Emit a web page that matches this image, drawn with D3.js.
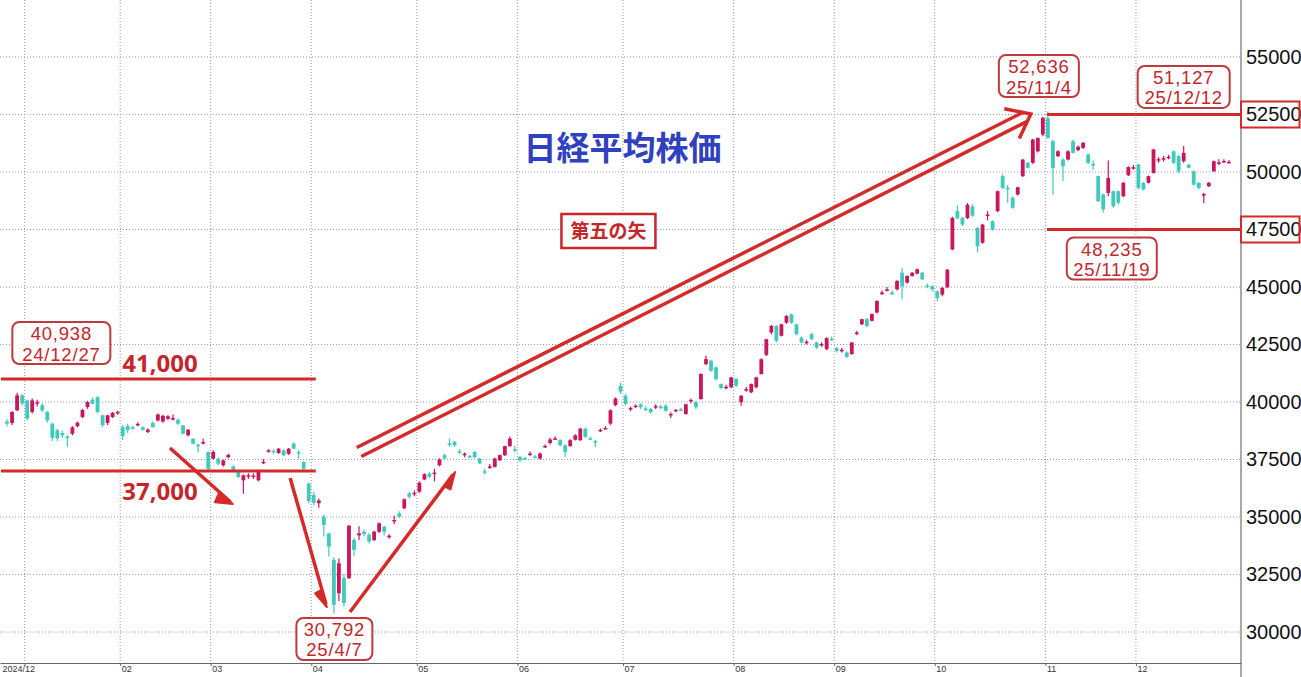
<!DOCTYPE html>
<html><head><meta charset="utf-8">
<script src="https://cdn.jsdelivr.net/npm/d3@7"></script>
<style>html,body{margin:0;padding:0;background:#fff;overflow:hidden}</style>
</head><body><svg id="c" width="1301" height="677"></svg>
<script>
// ---- data: daily candles [open, high, low, close] per month ----
const dec24 = [[39150,39250,38950,39060],[39090,39600,39000,39565],[39640,40400,39600,40290],[40290,40350,39850,39930]];
const jan25 = [[40070,40100,39200,39275],[39565,40150,39500,40070],[39940,40100,39800,39990],[39860,39950,39550,39640],[39570,39620,39100,39200],[39060,39100,38300,38440],[38770,38850,38300,38420],[38650,38750,38450,38560],[38500,38550,38050,38450],[38620,38950,38550,38900],[38950,39150,38900,39100],[39350,39700,39300,39650],[39780,40050,39700,40000],[40100,40200,39900,39930],[40210,40250,39500,39565],[39420,39450,38900,38990],[39090,39450,39000,39420],[39350,39560,39300,39530],[39550,39620,39450,39570]];
const feb25 = [[38910,39000,38350,38520],[38950,39050,38650,38780],[38900,38980,38800,38830],[39020,39120,38950,39050],[38900,38950,38750,38790],[38700,38850,38650,38800],[39090,39150,38880,38910],[39200,39500,39150,39460],[39150,39450,39100,39400],[39270,39420,39220,39380],[39280,39460,39200,39300],[39230,39280,39000,39060],[38985,39000,38600,38620],[38550,38820,38500,38800],[38400,38420,38150,38190],[38140,38200,37800,38100],[38220,38400,38150,38260],[37825,37850,37050,37100]];
const mar25 = [[37535,37900,37500,37825],[37535,37600,37250,37320],[37245,37500,37200,37460],[37600,37750,37550,37700],[37200,37250,36950,36995],[36995,37050,36700,36740],[36595,36850,36010,36810],[36800,36900,36650,36820],[36780,36900,36650,36800],[36595,37060,36550,37030],[37350,37520,37300,37400],[37870,37950,37800,37900],[37880,37950,37750,37850],[37780,38000,37750,37970],[37900,37950,37650,37680],[37750,38000,37700,37970],[38190,38250,37950,37970],[37820,37900,37530,37800],[37390,37420,37050,37100],[36450,36500,35600,35700]];
const apr25 = [[35950,36100,35500,35620],[35600,35800,35400,35720],[35010,35100,34150,34650],[34290,34300,33280,33710],[33140,33250,30792,31180],[31690,33200,31340,32990],[32340,32500,31110,31260],[32340,34650,32300,34620],[34000,34100,33300,33570],[34200,34600,34000,34290],[34360,34450,34150,34260],[34220,34300,33850,33930],[34000,34400,33950,34360],[34360,34760,34300,34730],[34580,34620,34200,34360],[34120,34250,34050,34190],[34830,35050,34700,34870],[35160,35250,34950,35010],[35380,35800,35350,35770],[36030,36100,35800,35880],[36000,36150,35900,36050]];
const may25 = [[36100,36550,36050,36490],[36630,36900,36600,36860],[36890,36950,36700,36750],[36900,37100,36550,36930],[37250,37550,37200,37500],[37690,37750,37500,37540],[38200,38420,38050,38180],[38270,38300,38050,38120],[37850,37950,37750,37830],[37700,37800,37600,37750],[37650,37700,37550,37600],[37830,37870,37550,37600],[37540,37560,37300,37330],[36990,37100,36850,36970],[37160,37300,37100,37200],[37180,37580,37150,37540],[37470,37720,37440,37690],[37690,38100,37650,38080],[38080,38500,38050,38410],[37950,38100,37800,37940]];
const jun25 = [[37610,37650,37400,37470],[37560,37620,37480,37540],[37740,37850,37650,37760],[37630,37700,37550,37600],[37540,37800,37500,37760],[38060,38150,38000,38090],[38220,38450,38150,38370],[38400,38500,38350,38420],[38340,38380,38080,38120],[38120,38150,37600,37830],[38080,38380,38050,38340],[38360,38600,38330,38550],[38340,38880,38300,38840],[38840,38880,38450,38480],[38420,38500,38350,38400],[38300,38350,38050,38270],[38770,38850,38700,38790],[38840,38950,38800,38870],[39060,39680,39000,39640],[39860,40200,39820,40150],[40700,40850,40350,40450]];
const jul25 = [[40275,40350,39850,39915],[39700,39800,39600,39740],[39800,39900,39750,39840],[39900,39950,39700,39770],[39720,39800,39600,39690],[39700,39750,39500,39550],[39800,39900,39700,39820],[39800,39880,39700,39780],[39840,39900,39580,39620],[39470,39550,39300,39480],[39630,39700,39550,39660],[39680,39750,39600,39660],[39480,39920,39450,39900],[40050,40150,39950,40090],[39990,40050,39700,39770],[40130,41250,40100,41215],[41650,42010,41600,41865],[41790,41850,41300,41360],[41500,41550,40950,40995],[40780,40800,40550,40610],[40640,40750,40550,40660],[40640,41100,40600,41070]];
const aug25 = [[41000,41050,40650,40710],[39990,40300,39840,40270],[40550,40650,40450,40560],[40420,40800,40380,40780],[40640,41100,40600,41070],[41215,41900,41200,41860],[42050,42750,42000,42730],[43020,43350,42950,43310],[43310,43350,42600,42660],[42880,43400,42850,43380],[43450,43780,43400,43740],[43810,43850,43400,43450],[43380,43400,42900,42950],[42800,42850,42550,42590],[42590,42700,42500,42620],[42950,43000,42700,42730],[42590,42620,42300,42370],[42500,42600,42400,42520],[42300,42800,42250,42780],[42750,42850,42650,42730]];
const sep25 = [[42340,42400,42150,42220],[42250,42350,42150,42270],[42150,42200,41900,41960],[42080,42600,42050,42590],[43000,43100,42900,43020],[43380,43620,43350,43600],[43600,43650,43250,43310],[43530,43850,43500,43820],[43890,44420,43850,44390],[44740,44850,44650,44760],[44880,45000,44800,44900],[44760,44850,44650,44740],[44900,45300,44850,45260],[45620,45840,44470,45040],[45190,45500,45150,45480],[45480,45650,45450,45620],[45580,45800,45550,45770],[45620,45650,45300,45330],[45060,45150,44950,45040],[45030,45080,44800,44900]];
const oct25 = [[44815,44850,44380,44525],[44670,45000,44600,44960],[44990,45780,44950,45750],[46630,48050,46600,48000],[48300,48550,47950,48000],[48000,48050,47650,47720],[48000,48650,47950,48580],[48500,48600,48050,48100],[47570,47600,46500,46770],[46920,47750,46880,47715],[48100,48300,47900,48150],[47860,47900,47450,47500],[48300,49200,48250,49165],[49820,49900,49250,49310],[49310,49450,48660,49300],[48875,48950,48400,48440],[49020,49360,48980,49340],[49820,50560,49780,50540],[50400,50450,50150,50180],[50400,51450,50350,51410],[50900,51500,50850,51480],[51630,52400,51550,52355]];
const nov25 = [[52330,52636,51450,51485],[51340,51400,49020,50180],[50690,50950,50650,50900],[50540,50600,49600,50250],[50540,50950,50500,50900],[51340,51400,50800,50830],[50950,51150,50900,51100],[51050,51300,51000,51270],[50760,50800,50350,50400],[50350,50500,50100,50320],[49820,49850,48700,48730],[49020,49050,48235,48370],[49090,50500,48950,49740],[49165,49200,48450,48510],[49165,49200,48600,48660],[48950,49560,48900,49530],[49860,50250,49830,50210],[50200,50300,50100,50210]];
const dec25 = [[50325,50350,49250,49310],[49530,49560,49200,49240],[49530,49850,49500,49820],[49960,51000,49930,50980],[50540,50650,50400,50560],[50580,50700,50450,50600],[50640,50750,50550,50660],[50900,50950,50350,50400],[50690,50750,49950,50035],[50470,51127,50400,50830],[50320,50350,50150,50180],[50035,50060,49400,49450],[49530,49560,49250,49310],[49020,49100,48650,49040],[49380,49560,49350,49530],[50035,50500,50000,50470],[50400,50550,50300,50420],[50460,50550,50400,50480],[50440,50520,50380,50440]];
const monthGroups = [dec24, jan25, feb25, mar25, apr25, may25, jun25, jul25, aug25, sep25, oct25, nov25, dec25];
const monthLabels = ["2024/12","02","03","04","05","06","07","08","09","10","11","12"]; // ticks at start of Jan..Dec 2025
const yTicks = [30000,32500,35000,37500,40000,42500,45000,47500,50000,52500,55000];
const boxedTicks = [52500, 47500];
// reference levels: value, from index, to index
const levelLines = [[41000,-1.2,61.4],[37000,-1.2,61.4],[52500,206.8,245.4],[47500,206.8,245.4]];
const levelTexts = [["41,000",22.9,41000,-7],["37,000",22.9,37000,29]];
// callouts: value text, date text, center index, center value
const callouts = [["40,938","24/12/27",10.8,42565],["52,636","25/11/4",205.2,54170],["51,127","25/12/12",234.0,53700],["48,235","25/11/19",219.7,46239],["30,792","25/4/7",65.1,29696]];
// arrows: from [index,value] to [index,value], barb angle
const singleArrows = [[[32.4,38000],[44.9,35565],-36],[[56.3,36696],[63.6,31087],-25],[[68.2,30870],[89.1,36957],-22]];
const doubleArrow = [[70.0,37826],[203.6,52522]];
const titleText = ["日経平均株価",122.4,50522];
const arrowName = ["第五の矢",119.6,47435];

// ---- build ----
const candles = [];
monthGroups.forEach((g,m)=>g.forEach(d=>candles.push({m,o:d[0],h:d[1],l:d[2],c:d[3]})));
candles.forEach((d,i)=>d.i=i);
const monthStarts = [];
let cum = 0;
monthGroups.forEach((g,m)=>{ if(m>0) monthStarts.push(cum - 0.5); cum += g.length; });

const W=1301,H=677, axisX=1241, axisY=663;
const svg = d3.select("#c");
const x = d3.scaleLinear().domain([-1.4,245.4]).range([0,axisX]);
const y = d3.scaleLinear().domain([30000,55000]).range([632,57]);
const RED="#d42a2a", TXT="#c4262c", UP="#c9165c", DN="#3fcabd";

// grid
const grid = svg.append("g");
grid.selectAll(".hg").data(yTicks).join("line")
  .attr("x1",0).attr("x2",axisX).attr("y1",d=>y(d)).attr("y2",d=>y(d))
  .attr("stroke","#9a9a9a").attr("stroke-width",1).attr("stroke-dasharray","1,2");
grid.selectAll(".vg").data(monthStarts).join("line")
  .attr("x1",d=>x(d)).attr("x2",d=>x(d)).attr("y1",0).attr("y2",axisY)
  .attr("stroke","#9a9a9a").attr("stroke-width",1).attr("stroke-dasharray","1,2");

// x axis
const xa = svg.append("g").attr("transform",`translate(0,${axisY})`)
  .call(d3.axisBottom(x).tickValues(monthStarts).tickFormat((d,i)=>monthLabels[i]).tickSize(3).tickSizeOuter(0));
xa.select(".domain").attr("stroke","#666");
xa.selectAll(".tick line").attr("stroke","#666");
xa.selectAll(".tick text").attr("text-anchor","start").attr("y",3).attr("dy","0.71em")
  .attr("font-family","Liberation Sans, Arial, sans-serif").attr("font-size",9).attr("fill","#333")
  .attr("dx",(d,i)=> i===0 ? -(x(d)-2) : 1);

// right axis line and labels
svg.append("line").attr("x1",axisX).attr("x2",axisX).attr("y1",0).attr("y2",H).attr("stroke","#555").attr("stroke-width",1);
const ya = svg.append("g").attr("transform",`translate(${axisX},0)`)
  .call(d3.axisRight(y).tickValues(yTicks).tickFormat(d3.format("d")).tickSize(0).tickPadding(5));
ya.select(".domain").remove();
ya.selectAll(".tick text").attr("font-family","Liberation Sans, Arial, sans-serif").attr("font-size",20).attr("fill","#111");
svg.selectAll(".yb").data(boxedTicks).join("rect")
  .attr("x",axisX).attr("width",W-axisX-1.5).attr("y",d=>y(d)-13).attr("height",26)
  .attr("fill","none").attr("stroke",RED).attr("stroke-width",2);

// candles
const cg = svg.append("g");
const bw = 3.8;
cg.selectAll(".wick").data(candles).join("line")
  .attr("x1",d=>x(d.i)).attr("x2",d=>x(d.i)).attr("y1",d=>y(d.h)).attr("y2",d=>y(d.l))
  .attr("stroke",d=>d.c>=d.o?UP:DN).attr("stroke-width",1.2);
cg.selectAll(".body").data(candles).join("rect")
  .attr("x",d=>x(d.i)-bw/2).attr("width",bw)
  .attr("y",d=>y(Math.max(d.o,d.c))).attr("height",d=>Math.max(1.5,Math.abs(y(d.o)-y(d.c))))
  .attr("fill",d=>d.c>=d.o?UP:DN);

// level lines
svg.selectAll(".lvl").data(levelLines).join("line")
  .attr("x1",d=>x(d[1])).attr("x2",d=>x(d[2])).attr("y1",d=>y(d[0])).attr("y2",d=>y(d[0]))
  .attr("stroke",RED).attr("stroke-width",3);
svg.selectAll(".lvt").data(levelTexts).join("text")
  .attr("x",d=>x(d[1])).attr("y",d=>y(d[2])+d[3]).text(d=>d[0])
  .attr("font-family","Noto Sans, Liberation Sans, sans-serif").attr("font-weight","bold").attr("font-size",24).attr("fill",TXT);

// callouts
const cw = {"40,938":98,"52,636":80,"51,127":92,"48,235":90,"30,792":76};
const co = svg.selectAll(".co").data(callouts).join("g").attr("transform",d=>`translate(${x(d[2])},${y(d[3])})`);
co.append("rect").attr("x",d=>-cw[d[0]]/2).attr("y",-21).attr("width",d=>cw[d[0]]).attr("height",42)
  .attr("rx",7).attr("fill","#fff").attr("fill-opacity",0.85).attr("stroke","#c0393d").attr("stroke-width",2);
const cfont = "Liberation Sans, Arial, sans-serif";
co.append("text").attr("text-anchor","middle").attr("y",-3).text(d=>d[0])
  .attr("font-family",cfont).attr("font-size",18.5).attr("letter-spacing",0.8).attr("fill",TXT);
co.append("text").attr("text-anchor","middle").attr("y",17.5).text(d=>d[1])
  .attr("font-family",cfont).attr("font-size",18.5).attr("letter-spacing",0.8).attr("fill",TXT);

// single arrows (harpoon heads)
function rot(v,deg){const a=deg*Math.PI/180;return [v[0]*Math.cos(a)-v[1]*Math.sin(a), v[0]*Math.sin(a)+v[1]*Math.cos(a)];}
singleArrows.forEach(a=>{
  const p0=[x(a[0][0]),y(a[0][1])], p1=[x(a[1][0]),y(a[1][1])];
  const dx=p1[0]-p0[0], dy=p1[1]-p0[1], L=Math.hypot(dx,dy);
  const back=[-dx/L,-dy/L];
  svg.append("line").attr("x1",p0[0]).attr("y1",p0[1]).attr("x2",p1[0]+back[0]*3).attr("y2",p1[1]+back[1]*3)
    .attr("stroke",RED).attr("stroke-width",3.5).attr("stroke-linecap","butt");
  const b=rot(back,a[2]);
  const pts=[p1,[p1[0]+back[0]*18,p1[1]+back[1]*18],[p1[0]+b[0]*18,p1[1]+b[1]*18]];
  svg.append("path").attr("d",d3.line()(pts)+"Z").attr("fill",RED).attr("stroke",RED).attr("stroke-width",2).attr("stroke-linejoin","round");
});

// double arrow
{
  const p0=[x(doubleArrow[0][0]),y(doubleArrow[0][1])], p1=[x(doubleArrow[1][0]),y(doubleArrow[1][1])];
  const dx=p1[0]-p0[0], dy=p1[1]-p0[1], L=Math.hypot(dx,dy);
  const u=[dx/L,dy/L], n=[-u[1],u[0]], back=[-u[0],-u[1]];
  const off=5, th=38, hl=27;
  const endD = off/Math.tan(th*Math.PI/180);
  [-1,1].forEach(s=>{
    svg.append("line")
      .attr("x1",p0[0]+n[0]*off*s).attr("y1",p0[1]+n[1]*off*s)
      .attr("x2",p1[0]-u[0]*endD+n[0]*off*s).attr("y2",p1[1]-u[1]*endD+n[1]*off*s)
      .attr("stroke",RED).attr("stroke-width",3.5);
  });
  const b1=rot(back,th), b2=rot(back,-th);
  svg.append("path").attr("d",d3.line()([[p1[0]+b1[0]*hl,p1[1]+b1[1]*hl],p1,[p1[0]+b2[0]*hl,p1[1]+b2[1]*hl]]))
    .attr("fill","none").attr("stroke",RED).attr("stroke-width",3.5).attr("stroke-linejoin","miter");
}

// title
svg.append("text").attr("x",x(titleText[1])).attr("y",y(titleText[2])).attr("text-anchor","middle")
  .text(titleText[0]).attr("font-family","Noto Sans CJK JP, sans-serif").attr("font-weight","bold")
  .attr("font-size",33).attr("fill","#2f40c0");
// arrow name box
{
  const g=svg.append("g").attr("transform",`translate(${x(arrowName[1])},${y(arrowName[2])})`);
  g.append("rect").attr("x",-47).attr("y",-17).attr("width",94).attr("height",34).attr("fill","#fff")
    .attr("stroke","#c9262c").attr("stroke-width",2.5);
  g.append("text").attr("text-anchor","middle").attr("y",7).text(arrowName[0])
    .attr("font-family","Noto Sans CJK JP, sans-serif").attr("font-weight","bold").attr("font-size",19).attr("fill",TXT);
}
</script></body></html>
